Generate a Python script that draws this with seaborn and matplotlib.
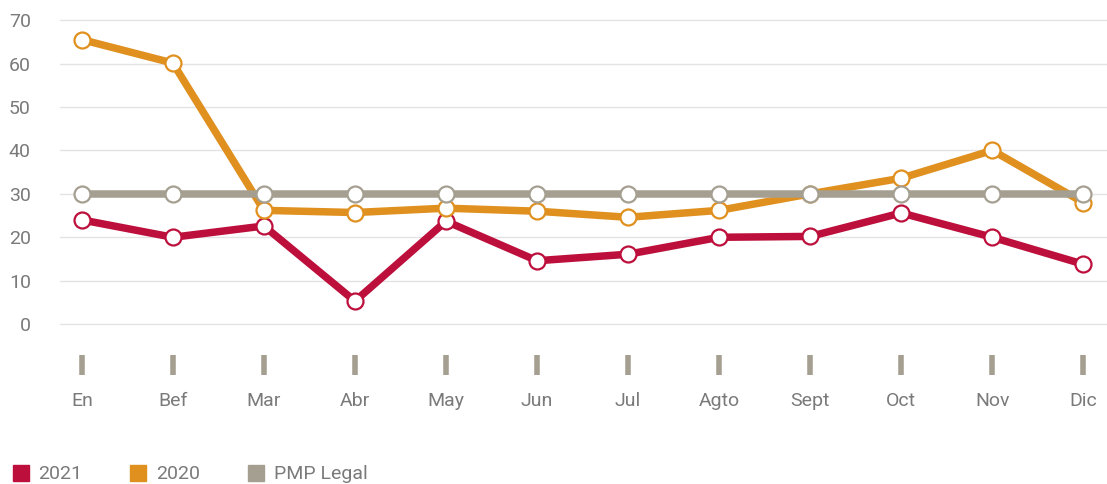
import numpy as np
import pandas as pd
import matplotlib.pyplot as plt
import seaborn as sns
from matplotlib.lines import Line2D

sns.set_theme(style="white")
plt.rcParams['font.family'] = ['Roboto', 'DejaVu Sans']

months = ['En', 'Bef', 'Mar', 'Abr', 'May', 'Jun', 'Jul', 'Agto', 'Sept', 'Oct', 'Nov', 'Dic']
v2021 = [24.0, 20.0, 22.6, 5.3, 23.7, 14.6, 16.1, 20.0, 20.2, 25.6, 20.0, 13.8]
v2020 = [65.5, 60.1, 26.2, 25.7, 26.7, 26.0, 24.6, 26.2, 30.0, 33.6, 40.0, 28.0]
pmp = [30] * 12

colors = {'2021': '#BD0F3C', '2020': '#E0901E', 'PMP Legal': '#A59F91'}

df = pd.DataFrame({'x': np.arange(12), '2021': v2021, '2020': v2020, 'PMP Legal': pmp})

fig = plt.figure(figsize=(11.07, 4.84), dpi=100)
ax = fig.add_axes([0.0542, 0.2665, 0.9458, 0.710])

for s in ['2021', '2020', 'PMP Legal']:
    sns.lineplot(data=df, x='x', y=s, ax=ax, color=colors[s], linewidth=5.4,
                 marker='o', markersize=11.5, markerfacecolor='white',
                 markeredgecolor=colors[s], markeredgewidth=1.6, clip_on=False)

ax.set_xlim(-0.24, 11.26)
ax.set_ylim(-7.1, 72)
ax.set_yticks(range(0, 71, 10))
ax.yaxis.grid(True, color='#e3e3e3', linewidth=1)
ax.set_axisbelow(True)
for sp in ax.spines.values():
    sp.set_visible(False)

ax.set_xticks(range(12))
ax.set_xticklabels(months)
ax.tick_params(axis='x', bottom=True, length=14.5, width=4, color='#A59F91',
               pad=12, labelsize=14, labelcolor='#7a7a7a')
ax.tick_params(axis='y', left=False, pad=15, labelsize=14, labelcolor='#7a7a7a')
ax.set_xlabel('')
ax.set_ylabel('')

handles = [Line2D([], [], linestyle='none', marker='s', markersize=11,
                  markerfacecolor=colors[k], markeredgecolor=colors[k]) for k in colors]
fig.legend(handles, list(colors), loc='lower left', bbox_to_anchor=(-0.006, -0.035),
           ncol=3, frameon=False, fontsize=14, labelcolor='#7a7a7a',
           handletextpad=0.4, columnspacing=2.4, handlelength=1.0)

fig.savefig('out.png', dpi=100)
